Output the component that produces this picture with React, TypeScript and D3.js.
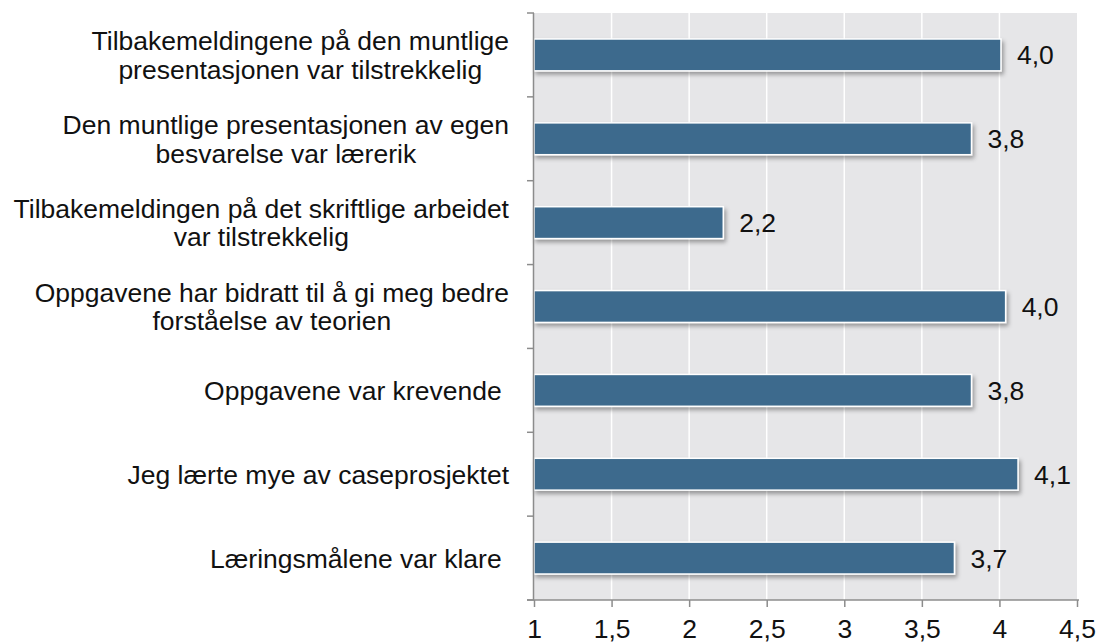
import * as d3 from "d3";
import { useEffect, useRef } from "react";

// survey statements, top to bottom ("|" marks a line break)
const statements = [
  "Tilbakemeldingene på den muntlige|presentasjonen var tilstrekkelig",
  "Den muntlige presentasjonen av egen|besvarelse var lærerik",
  "Tilbakemeldingen på det skriftlige arbeidet|var tilstrekkelig",
  "Oppgavene har bidratt til å gi meg bedre|forståelse av teorien",
  "Oppgavene var krevende ",
  "Jeg lærte mye av caseprosjektet",
  "Læringsmålene var klare ",
];
const averages = [4.01, 3.82, 2.22, 4.04, 3.82, 4.12, 3.71];
const xTicks = [1, 1.5, 2, 2.5, 3, 3.5, 4, 4.5];

const App = () => {
  const svgRef = useRef<SVGSVGElement | null>(null);

  useEffect(() => {
    if (!svgRef.current) return;
    document.body.style.margin = "0";

    const width = 1100;
    const height = 644;
    const plot = { left: 534, right: 1077, top: 13, bottom: 600 };
    const font = "'Liberation Sans', Arial, sans-serif";
    const fontSize = 26.5;

    const x = d3.scaleLinear().domain([1, 4.5]).range([plot.left, plot.right]);
    const y = d3
      .scaleBand<number>()
      .domain(d3.range(statements.length))
      .range([plot.top, plot.bottom])
      .paddingInner(0.62)
      .paddingOuter(0.31);
    const step = y.step();

    const svg = d3.select(svgRef.current);
    svg.selectAll("*").remove();
    svg.attr("viewBox", `0 0 ${width} ${height}`);

    const filter = svg.append("defs").append("filter").attr("id", "shadow")
      .attr("x", "-5%").attr("y", "-30%").attr("width", "110%").attr("height", "180%");
    filter.append("feDropShadow")
      .attr("dx", 2).attr("dy", 3).attr("stdDeviation", 2)
      .attr("flood-color", "#000").attr("flood-opacity", 0.35);

    // plot background + gridlines
    svg.append("rect")
      .attr("x", plot.left).attr("y", plot.top)
      .attr("width", plot.right - plot.left).attr("height", plot.bottom - plot.top)
      .attr("fill", "#e6e6e8");

    svg.append("g").selectAll("line")
      .data(xTicks.slice(1, -1))
      .join("line")
      .attr("x1", (d) => x(d)).attr("x2", (d) => x(d))
      .attr("y1", plot.top).attr("y2", plot.bottom)
      .attr("stroke", "#fff").attr("stroke-width", 1.5);

    // bars
    svg.append("g").selectAll("rect")
      .data(averages)
      .join("rect")
      .attr("x", x(1))
      .attr("y", (_, i) => y(i)!)
      .attr("width", (d) => x(d) - x(1))
      .attr("height", y.bandwidth())
      .attr("fill", "#3e6b8d")
      .attr("stroke", "#fff")
      .attr("stroke-width", 1.5)
      .attr("filter", "url(#shadow)");

    // value labels
    svg.append("g").selectAll("text")
      .data(averages)
      .join("text")
      .attr("x", (d) => x(d) + 16)
      .attr("y", (_, i) => y(i)! + y.bandwidth() / 2)
      .attr("dy", "0.36em")
      .attr("font-family", font)
      .attr("font-size", fontSize)
      .attr("fill", "#111")
      .text((d) => d3.format(".1f")(d).replace(".", ","));

    // y axis line + ticks at category boundaries
    const axisColor = "#8c8c8c";
    svg.append("line")
      .attr("x1", plot.left - 0.5).attr("x2", plot.left - 0.5)
      .attr("y1", plot.top).attr("y2", plot.bottom)
      .attr("stroke", axisColor).attr("stroke-width", 1.5);
    svg.append("g").selectAll("line")
      .data(d3.range(statements.length + 1))
      .join("line")
      .attr("x1", plot.left - 7).attr("x2", plot.left)
      .attr("y1", (i) => plot.top + i * step).attr("y2", (i) => plot.top + i * step)
      .attr("stroke", axisColor).attr("stroke-width", 1.5);

    // x axis
    const xAxis = svg.append("g")
      .attr("transform", `translate(0,${plot.bottom})`)
      .call(d3.axisBottom(x).tickValues(xTicks).tickSize(7).tickSizeOuter(0)
        .tickFormat((d) => String(d).replace(".", ",")));
    xAxis.select(".domain").remove();
    xAxis.append("line")
      .attr("x1", plot.left - 7).attr("x2", plot.right + 2)
      .attr("stroke", axisColor).attr("stroke-width", 1.5);
    xAxis.selectAll(".tick line").attr("stroke", axisColor).attr("stroke-width", 1.5);
    xAxis.selectAll(".tick text")
      .attr("y", 38)
      .attr("dy", "0")
      .attr("fill", "#111")
      .attr("font-family", font)
      .attr("font-size", fontSize);

    // category labels: block right-aligned, lines centred within block
    const labelRight = 509;
    const lineHeight = 28.5;
    const labels = svg.append("g")
      .attr("font-family", font)
      .attr("font-size", fontSize)
      .attr("fill", "#111");
    statements.forEach((s, i) => {
      const lines = s.split("|");
      const cy = y(i)! + y.bandwidth() / 2;
      const texts = lines.map((ln, j) =>
        labels.append("text")
          .attr("y", cy + (j - (lines.length - 1) / 2) * lineHeight)
          .attr("dy", "0.36em")
          .attr("text-anchor", "middle")
          .style("white-space", "pre")
          .text(ln)
      );
      const w = d3.max(texts, (t) => (t.node() as SVGTextElement).getComputedTextLength()) ?? 0;
      texts.forEach((t) => t.attr("x", labelRight - w / 2));
    });
  }, []);

  return <svg ref={svgRef} width={1100} height={644} style={{ display: "block" }}></svg>;
};

export default App;
